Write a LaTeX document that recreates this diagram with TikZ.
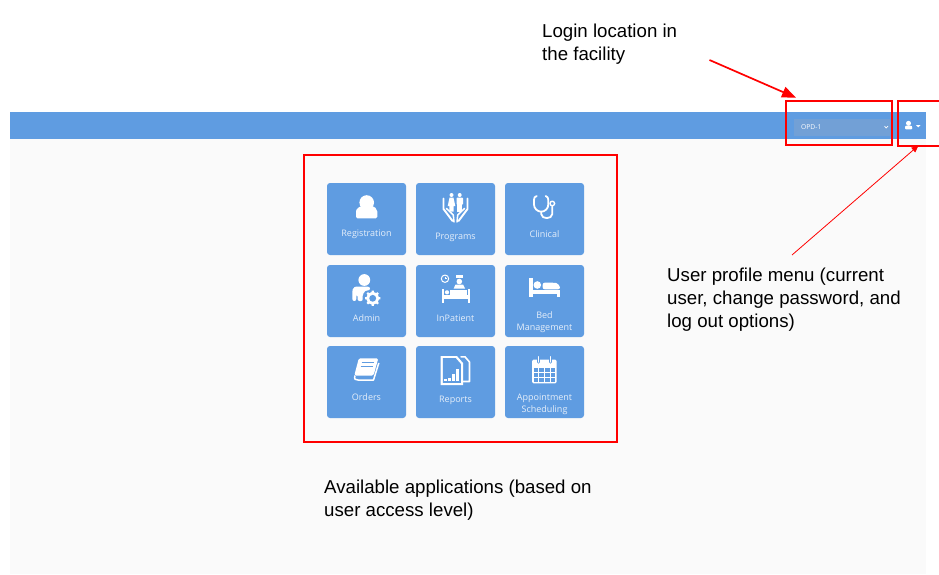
\documentclass[tikz,border=0pt]{standalone}
\usepackage{fontspec}
\setmainfont{Liberation Sans}
\newfontfamily\cardfont{Open Sans}
\usetikzlibrary{arrows.meta}
\definecolor{barblue}{HTML}{5F9CE1}
\definecolor{panelgrey}{HTML}{FAFAFA}
\definecolor{selectblue}{HTML}{72A0D6}
\definecolor{cardtext}{HTML}{E6EFFA}
\definecolor{annotred}{HTML}{FF0000}
\tikzset{
  cardbox/.style={fill=barblue,draw=none,rounded corners=3pt,minimum width=79pt,minimum height=72pt,inner sep=0pt,outer sep=0pt},
  cardlabel/.style={text=cardtext,font=\cardfont\fontsize{9}{12}\selectfont,align=center,inner sep=0pt},
  annot/.style={font=\fontsize{18.67}{23}\selectfont,align=left,anchor=north west,inner sep=0pt,text=black},
  redbox/.style={draw=annotred,line width=2pt,inner sep=0pt,outer sep=0pt,fill=none},
  iconline/.style={draw=white,fill=none,line width=1.5pt,line cap=round,line join=round},
  iconthin/.style={draw=white,fill=none,line width=1pt,line cap=round,line join=round},
}
\begin{document}
\begin{tikzpicture}[x=1pt,y=-1pt]
\useasboundingbox (0,0) rectangle (939,574);
\begin{scope}
\clip (0,0) rectangle (939,574);
\fill[white] (0,0) rectangle (939,574);
\fill[panelgrey] (10,112) rectangle (926,574);
\fill[barblue] (10,112) rectangle (926,139);
\fill[selectblue] (793.7,119) rectangle (890,135.5);
\node[text=white,font=\cardfont\fontsize{6.7}{7}\selectfont,inner sep=0pt,anchor=west] (opd) at (801,127.3) {OPD-1};
\draw[white,line width=.7pt] (884.5,126.2) -- (886.2,128) -- (888,126.2);
% user icon in the bar
\fill[white] (908.5,123.3) circle[radius=2.5];
\fill[white,rounded corners=1pt] (905,129.3) -- (905,127) .. controls (905.5,125.5) and (911.5,125.5) .. (912.3,127) -- (912.3,129.3) -- cycle;
\fill[white] (916,125) -- (920.5,125) -- (918.2,127.3) -- cycle;

% cards
\node[cardbox] (reg) at (366.5,219) {};
\node[cardbox] (prog) at (455.5,219) {};
\node[cardbox] (clin) at (544.5,219) {};
\node[cardbox] (adm) at (366.5,301) {};
\node[cardbox] (inp) at (455.5,301) {};
\node[cardbox] (bed) at (544.5,301) {};
\node[cardbox] (ord) at (366.5,382) {};
\node[cardbox] (rep) at (455.5,382) {};
\node[cardbox] (app) at (544.5,382) {};
\node[cardlabel] (lreg) at (366.5,234) {Registration};
\node[cardlabel] (lprog) at (455.5,237) {Programs};
\node[cardlabel] (lclin) at (544.5,234) {Clinical};
\node[cardlabel] (ladm) at (366.5,318) {Admin};
\node[cardlabel] (linp) at (455.5,318) {InPatient};
\node[cardlabel] (lbed) at (544.5,322.5) {Bed\\Management};
\node[cardlabel] (lord) at (366.5,397.5) {Orders};
\node[cardlabel] (lrep) at (455.5,400) {Reports};
\node[cardlabel] (lapp) at (544.5,404.5) {Appointment\\Scheduling};

% Registration icon
\fill[white] (366.7,202.5) circle[radius=7.3];
\fill[white,rounded corners=1.5pt] (356,218.3) -- (356,213) .. controls (356,208.5) and (360,206.5) .. (363,205.7) -- (371,205.7) .. controls (374,206.5) and (377.3,208.5) .. (377.3,213) -- (377.3,218.3) -- cycle;

% Programs icon
\draw[iconline,line width=1.9pt] (443.5,198.5) -- (443.5,209) -- (452.5,221);
\draw[iconline,line width=1.9pt] (467.5,198.5) -- (467.5,209) -- (458.5,221);
\draw[iconline,line width=1.5pt] (446.5,208.5) -- (453.3,215) -- (454,222);
\draw[iconline,line width=1.5pt] (464.5,208.5) -- (457.7,215) -- (457,222);
\fill[white] (451.5,195) circle[radius=2];
\fill[white] (459.7,195) circle[radius=2];
\fill[white] (449.5,197.7) -- (453.5,197.7) -- (455.3,206) -- (453.7,206) -- (453.7,211.7) -- (449.3,211.7) -- (449.3,206) -- (447.7,206) -- cycle;
\fill[white,rounded corners=.6pt] (456.5,197.7) rectangle (463,204.5);
\fill[white] (457.3,204) rectangle (462.2,211.7);

% Clinical icon
\draw[iconline,line width=1.8pt] (536.7,196) .. controls (534.5,196.5) and (534,198) .. (534,200) -- (534,204.5) .. controls (534,208.5) and (537.5,211.7) .. (541.2,211.7) .. controls (545,211.7) and (548.3,208.5) .. (548.3,204.5) -- (548.3,200) .. controls (548.3,198) and (547.5,196.5) .. (545.7,196);
\draw[iconline,line width=1.8pt] (541.2,211.7) -- (541.2,214) .. controls (541.5,219.5) and (552,219.5) .. (552.3,214) -- (552.3,206.5);
\draw[iconline,line width=1.4pt] (552.3,203.5) circle[radius=2.3];

% Admin icon
\fill[white] (364.3,280) circle[radius=5.9];
\fill[white,rounded corners=2pt] (352.3,301) -- (352.3,291.5) .. controls (353,287) and (356,286.7) .. (358,286.7) -- (370,286.7) -- (370,290.5) .. controls (364,290) and (362,295) .. (363,301) -- (357.5,301) -- (357.5,294.5) -- (356.3,294.5) -- (356.3,301) -- cycle;
\draw[white,line width=3pt] (372.7,298.3) circle[radius=5];
\draw[white,line width=2.2pt] (372.7,290.7) -- (372.7,305.9) (365.1,298.3) -- (380.3,298.3) (367.3,292.9) -- (378.1,303.7) (378.1,292.9) -- (367.3,303.7);
\fill[barblue] (372.7,298.3) circle[radius=3.4];

% InPatient icon
\draw[iconthin] (445,278.7) circle[radius=3.7];
\draw[white,line width=.7pt] (445,276.5) -- (445,278.7) -- (446.5,278.7);
\fill[white] (459.3,281.5) circle[radius=2.8];
\fill[white] (456,275) rectangle (462.7,277.8);
\fill[white] (453.7,288.5) -- (455.5,284.5) -- (463,284.5) -- (465,288.5) -- cycle;
\draw[iconline,line width=2pt,line cap=butt] (442.7,289) -- (442.7,303.3);
\draw[iconline,line width=2pt,line cap=butt] (469,289) -- (469,303.3);
\fill[white] (442.7,295.3) rectangle (469,298.5);
\fill[white] (447,292.3) circle[radius=2.1];
\fill[white] (450,290) rectangle (467,294.5);

% Bed icon
\fill[white] (529.3,278.3) rectangle (532.7,297.3);
\fill[white] (532,290) rectangle (560,293.5);
\fill[white] (557,290) rectangle (560,297.3);
\fill[white] (537.3,285) circle[radius=3.8];
\fill[white,rounded corners=2pt] (542.7,289.3) -- (542.7,282.7) -- (554,282.7) .. controls (557.5,283) and (560,286) .. (560,289.3) -- cycle;

% Orders icon
\fill[white,rounded corners=1.5pt] (358.8,358.3) -- (378.3,358.3) -- (373.5,375.5) -- (354.3,375.5) -- cycle;
\draw[white,line width=1.5pt,line join=round] (355,375.5) .. controls (353.8,379.5) and (355.5,380) .. (358,380) -- (373.5,380) -- (378.8,363);
\draw[barblue,line width=1.1pt] (361.5,362.5) -- (373.5,362.5) (360.5,366.3) -- (372.5,366.3);

% Reports icon
\draw[iconline,line width=1.6pt] (461,356.8) -- (465,356.8) -- (469.5,362) -- (469.5,381.5) -- (463,381.5);
\fill[white] (440.7,356) -- (457,356) -- (463,363) -- (463,385) -- (440.7,385) -- cycle;
\fill[barblue] (442.8,358.2) -- (455.8,358.2) -- (460.9,364) -- (460.9,382.8) -- (442.8,382.8) -- cycle;
\fill[white] (444,379) rectangle (446.7,381);
\fill[white] (447.5,377.5) rectangle (450.5,381);
\fill[white] (451.5,374) rectangle (454.5,381);
\fill[white] (455.5,368.5) rectangle (458.7,381);

% Appointment icon
\fill[white,rounded corners=1.5pt] (532,359.5) rectangle (556.7,383.3);
\fill[barblue] (534,368.3) rectangle (554.7,381.5);
\foreach \gx in {538.5,544.3,550.2}{\fill[white] (\gx-.55,368.3) rectangle (\gx+.55,381.5);}
\foreach \gy in {372.7,377.2}{\fill[white] (534,\gy-.55) rectangle (554.7,\gy+.55);}
\draw[barblue,line width=3.4pt,line cap=round] (538.5,357.5) -- (538.5,362) (550.2,357.5) -- (550.2,362);
\draw[white,line width=1.4pt,line cap=round] (538.5,356.8) -- (538.5,362) (550.2,356.8) -- (550.2,362);

% annotation boxes
\node[redbox,minimum width=313pt,minimum height=287pt] (appsbox) at (460.5,298.5) {};
\node[redbox,minimum width=106pt,minimum height=44pt] (locbox) at (839,123) {};
\node[redbox,minimum width=60pt,minimum height=45pt] (userbox) at (928,123.5) {};

% annotation text
\node[annot] (loctext) at (542,24) {Login location in\\the facility};
\node[annot] (usertext) at (667,268) {User profile menu (current\\user, change password, and\\log out options)};
\node[annot] (appstext) at (324,480) {Available applications (based on\\user access level)};

% connectors
\coordinate (locstart) at (709.5,60);
\coordinate (locend) at (796,97.7);
\coordinate (userstart) at (792,255);
\coordinate (userend) at (918.5,145.5);
\draw[annotred,line width=1.7pt,-{Triangle[length=14pt,width=11pt]}] (locstart) -- (locend);
\draw[annotred,line width=.8pt,-{Triangle[length=7pt,width=6pt]}] (userstart) -- (userend);
\end{scope}
\end{tikzpicture}
\end{document}
